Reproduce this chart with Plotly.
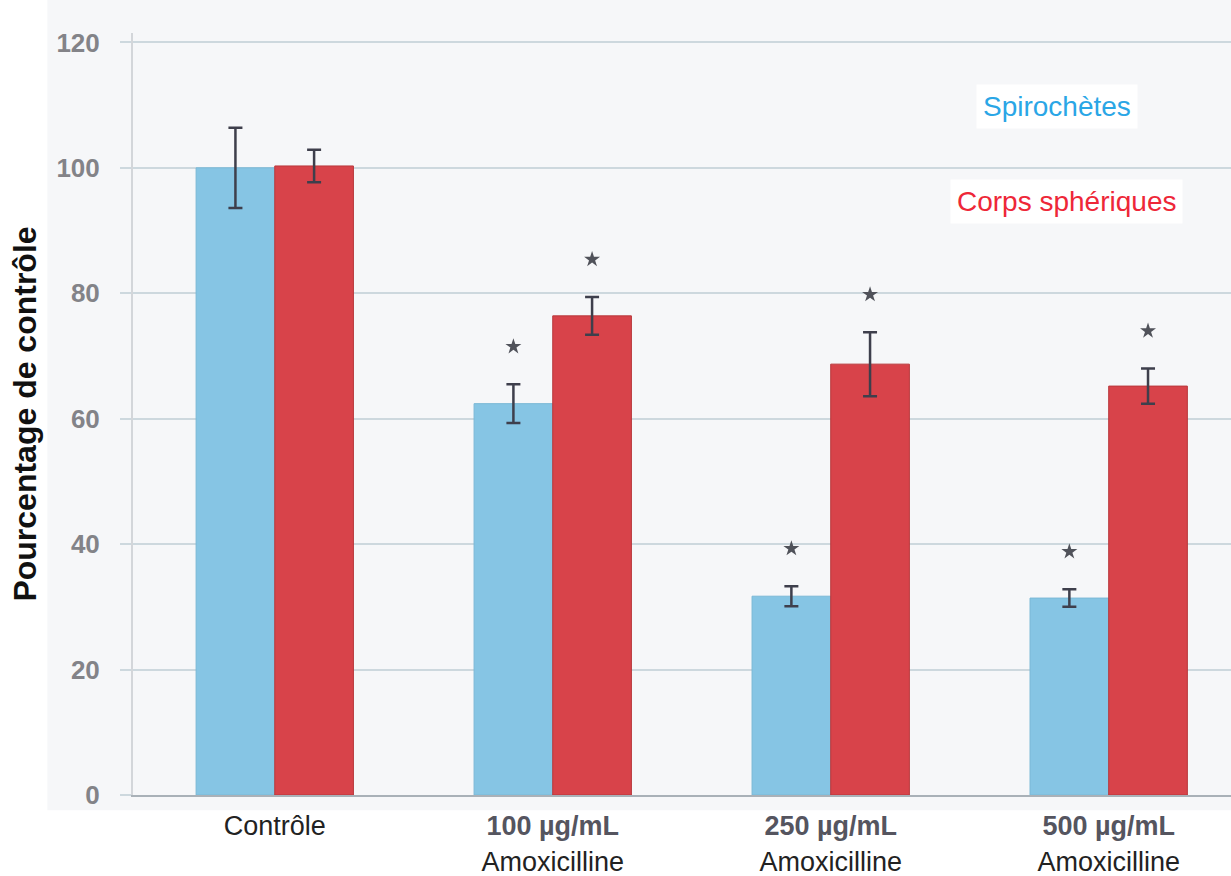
import plotly.graph_objects as go

# Treatment groups (x axis) and tick text
categories = ["Contrôle", "100 µg/mL", "250 µg/mL", "500 µg/mL"]
tick_labels = [
    "<span style='color:#222222'>Contrôle</span>",
    "<b><span style='color:#55555f'>100 µg/mL</span></b><br><span style='color:#222222'>Amoxicilline</span>",
    "<b><span style='color:#55555f'>250 µg/mL</span></b><br><span style='color:#222222'>Amoxicilline</span>",
    "<b><span style='color:#55555f'>500 µg/mL</span></b><br><span style='color:#222222'>Amoxicilline</span>",
]

# Percentage of control, mean and error
spiro_values = [100.0, 62.4, 31.7, 31.4]
spiro_errors = [6.4, 3.1, 1.6, 1.4]
sphere_values = [100.3, 76.4, 68.7, 65.2]
sphere_errors = [2.6, 3.0, 5.1, 2.8]

# Significance flags (True -> star above the bar)
spiro_signif = [False, True, True, True]
sphere_signif = [False, True, True, True]

y_ticks = [0, 20, 40, 60, 80, 100, 120]

BLUE = "#86c5e4"
RED = "#d8434a"
ERR = "#3e3f4c"
STAR_GAP = 6.0

x_idx = list(range(len(categories)))

fig = go.Figure()

fig.add_trace(go.Bar(
    x=x_idx, y=spiro_values, name="Spirochètes",
    marker=dict(color=BLUE, line=dict(color="#7ab8d6", width=1)),
    error_y=dict(type="data", array=spiro_errors, visible=True,
                 color=ERR, thickness=2.5, width=7),
    offsetgroup="a",
))
fig.add_trace(go.Bar(
    x=x_idx, y=sphere_values, name="Corps sphériques",
    marker=dict(color=RED, line=dict(color="#b8383c", width=1)),
    error_y=dict(type="data", array=sphere_errors, visible=True,
                 color=ERR, thickness=2.5, width=7),
    offsetgroup="b",
))

# Stars above significant bars (bar half-offset in category units)
half = 0.283 / 2
star_x, star_y = [], []
for i in x_idx:
    if spiro_signif[i]:
        star_x.append(i - half)
        star_y.append(spiro_values[i] + spiro_errors[i] + STAR_GAP)
    if sphere_signif[i]:
        star_x.append(i + half)
        star_y.append(sphere_values[i] + sphere_errors[i] + STAR_GAP)

fig.add_trace(go.Scatter(
    x=star_x, y=star_y, mode="markers",
    marker=dict(symbol="star", size=12, color="#50525a"),
    showlegend=False, hoverinfo="skip",
))

fig.update_layout(
    width=1231, height=876,
    margin=dict(l=133, r=0, t=33, b=81),
    paper_bgcolor="white",
    plot_bgcolor="#f6f7f9",
    barmode="group",
    bargap=0.434,
    bargroupgap=0,
    showlegend=False,
    font=dict(family="Liberation Sans, Arial, sans-serif"),
    shapes=[
        dict(type="rect", xref="paper", yref="paper",
             x0=-0.078, x1=1.0, y0=-0.02, y1=1.06,
             fillcolor="#f6f7f9", line=dict(width=0), layer="below"),
    ],
    annotations=[
        dict(xref="paper", yref="paper", x=0.8415, y=0.903,
             xanchor="center", yanchor="middle",
             text="Spirochètes", showarrow=False,
             font=dict(size=28, color="#2aa6e6"),
             bgcolor="white", borderpad=6),
        dict(xref="paper", yref="paper", x=0.8506, y=0.7795,
             xanchor="center", yanchor="middle",
             text="Corps sphériques", showarrow=False,
             font=dict(size=28, color="#ee2738"),
             bgcolor="white", borderpad=6),
    ],
)

fig.update_xaxes(
    range=[-0.51, 3.44],
    tickmode="array", tickvals=x_idx, ticktext=tick_labels,
    tickfont=dict(size=27, color="#222222"),
    ticks="", ticklabelstandoff=6,
    showgrid=False, zeroline=False,
    showline=True, linecolor="#a9b1b8", linewidth=2,
)

fig.update_yaxes(
    range=[0, 121.5],
    tickmode="array", tickvals=y_ticks,
    ticktext=[f"<b>{v}</b>" for v in y_ticks],
    tickfont=dict(size=26, color="#838388"),
    ticks="outside", ticklen=11, tickcolor="#cdd8de", tickwidth=2,
    ticklabelstandoff=15,
    showgrid=True, gridcolor="#cdd8de", gridwidth=2,
    zeroline=False,
    showline=True, linecolor="#d3d6da", linewidth=2,
    title=dict(text="<b>Pourcentage de contrôle</b>",
               font=dict(size=32, color="#111111"), standoff=10),
)

fig.write_html("out.html")
